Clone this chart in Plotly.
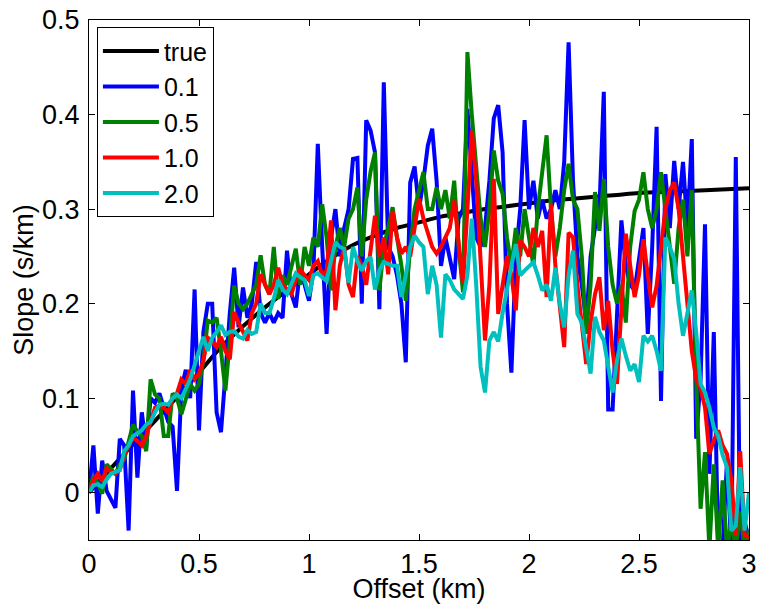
import numpy as np
import plotly.graph_objects as go

# offset grid of the estimated slopes (km)
offset = np.round(np.arange(151) * 0.02, 2)

# true slope curve
true_offset = [0.0, 0.1, 0.2, 0.3, 0.4, 0.5, 0.6, 0.7, 0.8, 0.9, 1.0, 1.1, 1.2, 1.3, 1.4, 1.5,
               1.6, 1.7, 1.8, 1.9, 2.0, 2.1, 2.2, 2.3, 2.4, 2.5, 2.6, 2.7, 2.8, 2.9, 3.0]
true_slope = [0.0, 0.026, 0.051, 0.076, 0.101, 0.127, 0.154, 0.176, 0.196, 0.214, 0.231, 0.248,
              0.262, 0.272, 0.280, 0.286, 0.292, 0.296, 0.300, 0.303, 0.306, 0.309, 0.311, 0.313,
              0.315, 0.317, 0.318, 0.319, 0.320, 0.321, 0.322]

slope_01 = [0.0, 0.05, -0.022, 0.034, 0.002, -0.008, -0.016, 0.057, 0.05, -0.04,
            0.108, 0.016, 0.085, 0.048, 0.10, 0.095, 0.105, 0.09, 0.075, 0.07,
            0.002, 0.11, 0.13, 0.10, 0.215, 0.066, 0.17, 0.20, 0.20, 0.085,
            0.064, 0.125, 0.19, 0.238, 0.175, 0.217, 0.185, 0.20, 0.244, 0.19,
            0.18, 0.19, 0.18, 0.19, 0.185, 0.256, 0.21, 0.196, 0.238, 0.22,
            0.203, 0.235, 0.369, 0.26, 0.168, 0.27, 0.30, 0.25, 0.28, 0.30,
            0.353, 0.354, 0.20, 0.394, 0.383, 0.36, 0.194, 0.434, 0.26, 0.25,
            0.23, 0.20, 0.138, 0.328, 0.345, 0.30, 0.33, 0.367, 0.385, 0.33,
            0.24, 0.27, 0.25, 0.226, 0.29, 0.30, 0.406, 0.33, 0.27, 0.26,
            0.28, 0.33, 0.396, 0.41, 0.36, 0.20, 0.127, 0.25, 0.30, 0.394,
            0.30, 0.33, 0.29, 0.31, 0.29, 0.30, 0.32, 0.30, 0.35, 0.4765,
            0.33, 0.25, 0.22, 0.18, 0.25, 0.28, 0.30, 0.424, 0.088, 0.088,
            0.20, 0.288, 0.24, 0.22, 0.214, 0.25, 0.28, 0.168, 0.26, 0.387,
            0.097, 0.337, 0.28, 0.351, 0.30, 0.35, 0.28, 0.374, 0.057, 0.12,
            0.284, 0.02, 0.17, -0.06, -0.06, 0.034, -0.06, 0.355, -0.06, -0.03,
            -0.05]

slope_05 = [0.0, 0.018, 0.01, -0.001, 0.03, 0.025, 0.02, 0.03, 0.035, 0.054,
            0.072, 0.065, 0.06, 0.044, 0.12, 0.104, 0.10, 0.06, 0.06, 0.105,
            0.10, 0.083, 0.10, 0.115, 0.108, 0.115, 0.14, 0.182, 0.18, 0.185,
            0.15, 0.108, 0.16, 0.219, 0.20, 0.194, 0.20, 0.21, 0.22, 0.251,
            0.22, 0.21, 0.26, 0.205, 0.23, 0.22, 0.24, 0.258, 0.22, 0.26,
            0.24, 0.27, 0.26, 0.305, 0.27, 0.214, 0.26, 0.28, 0.26, 0.29,
            0.30, 0.323, 0.25, 0.31, 0.34, 0.36, 0.214, 0.26, 0.28, 0.302,
            0.27, 0.24, 0.203, 0.26, 0.30, 0.32, 0.339, 0.30, 0.30, 0.323,
            0.30, 0.32, 0.29, 0.33, 0.26, 0.212, 0.466, 0.40, 0.34, 0.29,
            0.26, 0.30, 0.362, 0.33, 0.316, 0.27, 0.24, 0.28, 0.25, 0.30,
            0.27, 0.24, 0.30, 0.34, 0.378, 0.30, 0.25, 0.28, 0.32, 0.348,
            0.31, 0.30, 0.25, 0.168, 0.22, 0.318, 0.277, 0.332, 0.26, 0.22,
            0.20, 0.22, 0.18, 0.26, 0.298, 0.31, 0.339, 0.30, 0.28, 0.30,
            0.339, 0.30, 0.26, 0.221, 0.28, 0.31, 0.25, 0.32, 0.12, -0.017,
            0.043, -0.06, 0.03, -0.06, 0.013, -0.06, -0.03, -0.06, -0.02, -0.06,
            -0.04]

slope_10 = [0.0, 0.013, 0.02, 0.012, 0.026, 0.022, 0.02, 0.024, 0.04, 0.05,
            0.058, 0.055, 0.05, 0.06, 0.075, 0.09, 0.092, 0.09, 0.085, 0.10,
            0.105, 0.12, 0.115, 0.13, 0.12, 0.126, 0.14, 0.164, 0.16, 0.154,
            0.165, 0.15, 0.141, 0.191, 0.18, 0.17, 0.161, 0.19, 0.20, 0.231,
            0.22, 0.21, 0.22, 0.238, 0.22, 0.215, 0.21, 0.225, 0.236, 0.23,
            0.225, 0.24, 0.245, 0.23, 0.235, 0.288, 0.193, 0.24, 0.26, 0.22,
            0.207, 0.25, 0.24, 0.22, 0.26, 0.293, 0.25, 0.27, 0.231, 0.298,
            0.27, 0.253, 0.26, 0.25, 0.28, 0.311, 0.29, 0.274, 0.26, 0.253,
            0.26, 0.27, 0.28, 0.309, 0.26, 0.221, 0.30, 0.383, 0.33, 0.24,
            0.161, 0.22, 0.332, 0.189, 0.22, 0.25, 0.23, 0.193, 0.267, 0.26,
            0.25, 0.28, 0.26, 0.277, 0.207, 0.305, 0.24, 0.20, 0.154, 0.275,
            0.27, 0.22, 0.18, 0.136, 0.18, 0.21, 0.228, 0.172, 0.203, 0.15,
            0.115, 0.20, 0.274, 0.24, 0.207, 0.23, 0.268, 0.23, 0.196, 0.219,
            0.26, 0.30, 0.32, 0.328, 0.30, 0.25, 0.20, 0.15, 0.12, 0.11,
            0.09, 0.041, 0.055, 0.066, 0.05, 0.041, 0.013, -0.045, 0.044, -0.045,
            -0.047]

slope_20 = [0.0, 0.008, 0.009, 0.006, 0.014, 0.02, 0.022, 0.024, 0.044, 0.05,
            0.06, 0.063, 0.066, 0.072, 0.075, 0.085, 0.093, 0.094, 0.093, 0.10,
            0.104, 0.10, 0.11, 0.12, 0.135, 0.15, 0.165, 0.15, 0.164, 0.17,
            0.177, 0.167, 0.17, 0.171, 0.165, 0.163, 0.172, 0.168, 0.17, 0.20,
            0.19, 0.19, 0.205, 0.225, 0.215, 0.21, 0.22, 0.232, 0.228, 0.225,
            0.208, 0.23, 0.232, 0.228, 0.224, 0.245, 0.265, 0.26, 0.258, 0.222,
            0.26, 0.245, 0.235, 0.245, 0.249, 0.215, 0.235, 0.244, 0.242, 0.24,
            0.24, 0.207, 0.23, 0.26, 0.272, 0.265, 0.26, 0.21, 0.24, 0.22,
            0.164, 0.231, 0.225, 0.215, 0.21, 0.205, 0.23, 0.29, 0.22, 0.133,
            0.106, 0.161, 0.17, 0.16, 0.19, 0.217, 0.24, 0.263, 0.23, 0.235,
            0.24, 0.244, 0.23, 0.214, 0.22, 0.203, 0.238, 0.20, 0.175, 0.23,
            0.256, 0.189, 0.18, 0.15, 0.126, 0.186, 0.17, 0.161, 0.13, 0.106,
            0.14, 0.163, 0.145, 0.129, 0.136, 0.117, 0.166, 0.16, 0.166, 0.15,
            0.129, 0.27, 0.26, 0.247, 0.20, 0.166, 0.19, 0.214, 0.17, 0.115,
            0.106, 0.09, 0.069, 0.06, 0.04, 0.027, -0.04, -0.035, 0.027, -0.04,
            0.0]

font = 'Liberation Sans, Arial, sans-serif'

fig = go.Figure()
fig.add_trace(go.Scatter(x=true_offset, y=true_slope, mode='lines', name='true',
                         line=dict(color='black', width=4, shape='spline')))
fig.add_trace(go.Scatter(x=offset, y=slope_01, mode='lines', name='0.1',
                         line=dict(color='#0000ff', width=4)))
fig.add_trace(go.Scatter(x=offset, y=slope_05, mode='lines', name='0.5',
                         line=dict(color='#008000', width=4)))
fig.add_trace(go.Scatter(x=offset, y=slope_10, mode='lines', name='1.0',
                         line=dict(color='#ff0000', width=4)))
fig.add_trace(go.Scatter(x=offset, y=slope_20, mode='lines', name='2.0',
                         line=dict(color='#00bfbf', width=4)))

axis_style = dict(showline=True, linecolor='black', linewidth=1, mirror='ticks',
                  ticks='inside', ticklen=6, tickcolor='black', showgrid=False,
                  zeroline=False, automargin=False,
                  tickfont=dict(family=font, size=27, color='black'))

fig.update_layout(
    width=758, height=604,
    margin=dict(l=89, r=9, t=20, b=64),
    paper_bgcolor='white', plot_bgcolor='white',
    font=dict(family=font, size=27, color='black'),
    xaxis=dict(range=[0, 3], dtick=0.5, tick0=0, ticklabelstandoff=0,
               title=dict(text='Offset (km)', font=dict(size=27), standoff=4),
               **axis_style),
    yaxis=dict(range=[-0.05, 0.5], dtick=0.1, tick0=0, ticklabelstandoff=3,
               title=dict(text='Slope (s/km)', font=dict(size=27), standoff=0),
               **axis_style),
    legend=dict(x=0.012, y=0.986, xanchor='left', yanchor='top',
                bgcolor='white', bordercolor='black', borderwidth=1,
                font=dict(family=font, size=25), itemwidth=56,
                tracegroupgap=0),
    showlegend=True,
)

# page body has a default 8px margin; drop it so the figure fills the window
fig.write_html('out.html', config={'displayModeBar': False},
               post_script="document.body.style.margin='0';")
